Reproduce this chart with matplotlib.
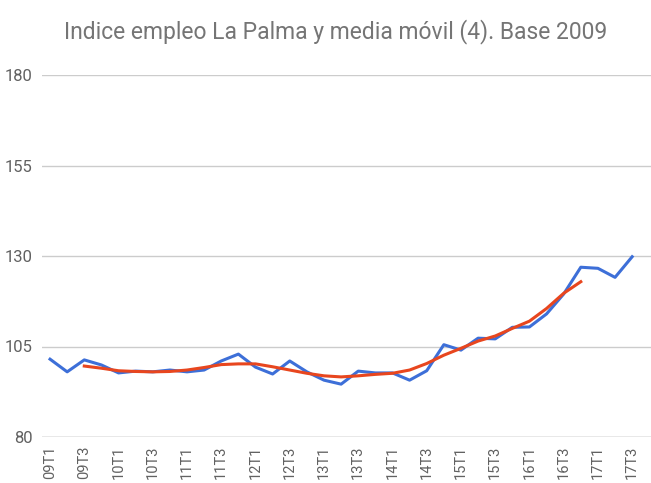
import matplotlib
matplotlib.use("Agg")
import matplotlib.pyplot as plt

plt.rcParams['font.family'] = ['Roboto', 'DejaVu Sans']

# quarters 09T1 .. 17T3
quarters = [f"{y:02d}T{q}" for y in range(9, 18) for q in range(1, 5)][:35]

indice = [101.5, 98.0, 101.3, 99.9, 97.7, 98.2, 98.0, 98.5, 98.0, 98.5,
          101.0, 102.9, 99.3, 97.4, 101.0, 98.0, 95.7, 94.6, 98.2, 97.7,
          97.7, 95.7, 98.3, 105.5, 104.0, 107.3, 107.1, 110.3, 110.4, 114.0,
          119.5, 126.9, 126.6, 124.1, 129.8]

# media movil, from 09T3 to 16T4
media_start = 2
media = [99.6, 99.0, 98.3, 98.1, 98.0, 98.1, 98.5, 99.2, 100.0, 100.2,
         100.2, 99.4, 98.5, 97.6, 96.9, 96.6, 96.9, 97.3, 97.6, 98.5,
         100.3, 102.6, 104.5, 106.5, 107.9, 110.0, 112.0, 115.5, 119.7, 122.9]

yticks = [80, 105, 130, 155, 180]

fig = plt.figure(figsize=(6.51, 4.83), dpi=100)
ax = fig.add_axes([42 / 651, 46 / 483, 609 / 651, 362 / 483])

x = list(range(len(indice)))
xm = list(range(media_start, media_start + len(media)))
ax.plot(x, indice, color='#3d6fd8', lw=2.2, solid_joinstyle='round', zorder=3)
ax.plot(xm, media, color='#e8461e', lw=2.2, solid_joinstyle='round', zorder=4)

ax.set_ylim(80, 180)
ax.set_xlim(-0.47, 35.1)
ax.set_yticks(yticks)
ax.set_yticklabels([str(v) for v in yticks], fontsize=12, color='#616161')
ax.set_xticks(x[::2])
ax.set_xticklabels(quarters[::2], rotation=90, fontsize=10.5, color='#616161')
ax.tick_params(length=0, axis='both')
ax.tick_params(axis='y', pad=7)
ax.tick_params(axis='x', pad=6)
ax.grid(axis='y', color='#cccccc', lw=1)
ax.set_axisbelow(True)
for s in ax.spines.values():
    s.set_visible(False)
ax.axhline(80, color='#333333', lw=1, alpha=0.35, zorder=2)

fig.text(0.515, 0.935, 'Indice empleo La Palma y media móvil (4). Base 2009',
         ha='center', va='center', fontsize=16.5, color='#757575')

fig.savefig('out.png', dpi=100)
